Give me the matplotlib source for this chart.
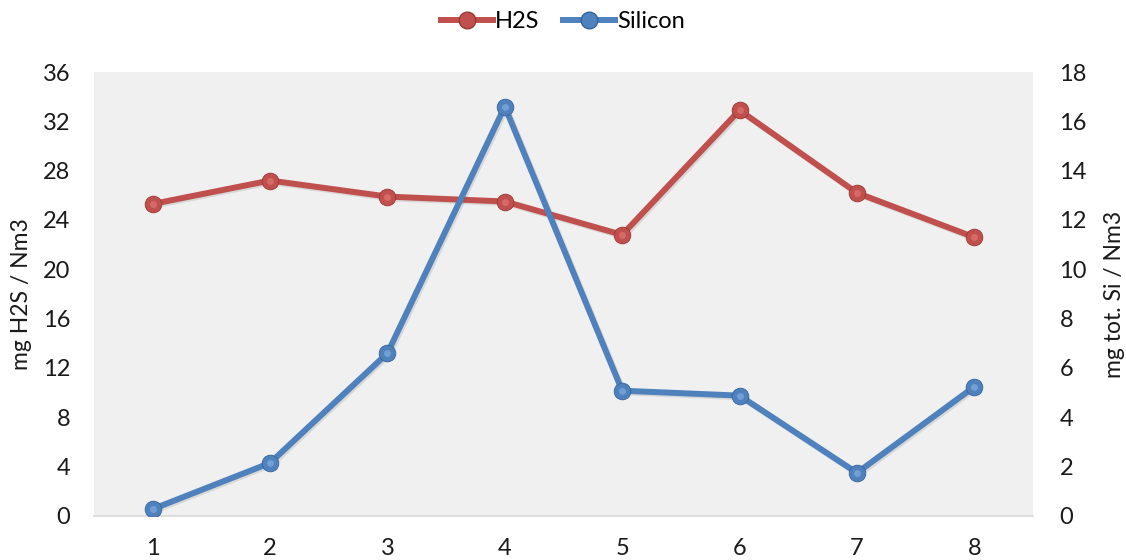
import matplotlib
matplotlib.use("Agg")
import matplotlib.pyplot as plt
import matplotlib.patheffects as pe
from matplotlib.lines import Line2D

plt.rcParams['font.family'] = ['Lato', 'DejaVu Sans']

samples = [1, 2, 3, 4, 5, 6, 7, 8]
h2s = [25.3, 27.2, 25.9, 25.5, 22.8, 32.9, 26.2, 22.6]
silicon = [0.28, 2.15, 6.6, 16.6, 5.08, 4.88, 1.75, 5.24]
left_ticks = [0, 4, 8, 12, 16, 20, 24, 28, 32, 36]
right_ticks = [0, 2, 4, 6, 8, 10, 12, 14, 16, 18]

red = '#c0504d'
blue = '#4f81bd'

fig = plt.figure(figsize=(11.26, 5.6), dpi=100)
ax = fig.add_axes([94 / 1126, 44 / 560, (1033 - 94) / 1126, (516 - 72) / 560])
ax2 = ax.twinx()
ax.set_facecolor('#f0f0f0')

shadow = [pe.SimpleLineShadow(offset=(1.2, -1.2), alpha=0.15, shadow_color='#555555'), pe.Normal()]


def draw_series(axis, ys, color, dark, light):
    axis.plot(samples, ys, color=color, lw=4.3, solid_capstyle='round',
              path_effects=shadow, zorder=3)
    axis.plot(samples, ys, ls='none', marker='o', ms=12, mfc=color, mec=dark,
              mew=0.6, zorder=4)
    axis.plot(samples, ys, ls='none', marker='o', ms=5, mfc=light, mec='none',
              alpha=0.45, zorder=5)


draw_series(ax, h2s, red, '#9a3633', '#f08a86')
draw_series(ax2, silicon, blue, '#34639b', '#9cc4ee')

ax.set_xlim(0.5, 8.5)
ax.set_ylim(0, 36)
ax2.set_ylim(0, 18)
ax.set_xticks(samples)
ax.set_yticks(left_ticks)
ax2.set_yticks(right_ticks)

for a in (ax, ax2):
    for s in a.spines.values():
        s.set_visible(False)
    a.tick_params(length=0, labelsize=17, colors='#1a1a1a')
ax.spines['bottom'].set_visible(True)
ax.spines['bottom'].set_color('#d9d9d9')
ax.spines['bottom'].set_linewidth(1.2)
ax.tick_params(axis='x', pad=16)
ax.tick_params(axis='y', pad=17)
ax2.tick_params(axis='y', pad=19)

ax.set_ylabel('mg H2S / Nm3', fontsize=16.5, labelpad=8, color='#1a1a1a')
ax2.set_ylabel('mg tot. Si / Nm3', fontsize=16.5, labelpad=12, color='#1a1a1a')

handles = [
    Line2D([], [], color=red, lw=4.3, marker='o', ms=12, mfc=red, mec='#9a3633'),
    Line2D([], [], color=blue, lw=4.3, marker='o', ms=12, mfc=blue, mec='#34639b'),
]
fig.legend(handles, ['H2S', 'Silicon'], loc='center', bbox_to_anchor=(0.5, 1 - 22 / 560),
           ncol=2, frameon=False, fontsize=17, handlelength=2.2, handletextpad=0.1,
           columnspacing=1.0)

fig.savefig('out.png', dpi=100, facecolor='white')
